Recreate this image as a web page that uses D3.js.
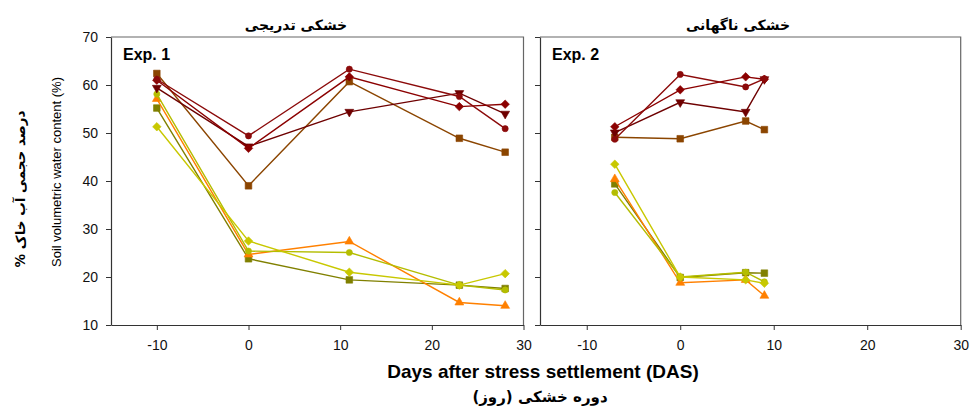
<!DOCTYPE html>
<html>
<head>
<meta charset="utf-8">
<script src="https://cdn.jsdelivr.net/npm/d3@7"></script>
<style>
  body { margin: 0; background: #fff; }
  svg text { font-family: "Liberation Sans", Arial, sans-serif; }
  .fa { font-family: "DejaVu Sans", "Noto Sans", sans-serif; font-weight: bold; }
</style>
</head>
<body>
<svg id="chart" width="970" height="408"></svg>
<script>
// days of measurement
const exp1Days = [-10, 0, 11, 23, 28]
const exp2Days = [-7, 0, 7, 9]

// soil volumetric water content (%)
const exp1CircleRed = [61.2, 49.4, 63.3, 57.6, 50.9]
const exp1DiamondRed = [61.0, 46.8, 61.7, 55.5, 56.0]
const exp1TriangleRed = [59.4, 47.2, 54.4, 58.3, 54.0]
const exp1SquareBrown = [62.4, 39.0, 60.7, 48.9, 46.0]
const exp1DiamondYellow = [51.3, 27.5, 21.0, 18.3, 20.7]
const exp1CircleYellow = [58.1, 25.4, 25.1, 18.3, 17.3]
const exp1TriangleOrange = [57.1, 24.7, 27.4, 14.7, 14.0]
const exp1SquareOlive = [55.2, 23.8, 19.4, 18.3, 17.6]

const exp2CircleRed = [48.7, 62.2, 59.6, 61.3]
const exp2DiamondRed = [51.3, 59.0, 61.7, 61.2]
const exp2TriangleRed = [50.1, 56.4, 54.4, 61.2]
const exp2SquareBrown = [49.1, 48.8, 52.5, 50.7]
const exp2DiamondYellow = [43.5, 20.0, 19.4, 18.7]
const exp2CircleYellow = [37.6, 20.0, 21.0, 19.0]
const exp2TriangleOrange = [40.4, 18.8, 19.4, 16.1]
const exp2SquareOlive = [39.4, 19.9, 20.9, 20.8]

const xTicks = [-10, 0, 10, 20, 30]
const yTicks = [10, 20, 30, 40, 50, 60, 70]

const seriesKeys = ['squareOlive', 'triangleOrange', 'circleYellow', 'diamondYellow',
  'squareBrown', 'triangleRed', 'diamondRed', 'circleRed']
const seriesColor = {
  circleRed: '#8b0a0a', diamondRed: '#8b0000', triangleRed: '#6e0000', squareBrown: '#8b4500',
  diamondYellow: '#c8c800', circleYellow: '#b4bd00', triangleOrange: '#ff8000', squareOlive: '#808000'
}
const seriesShape = {
  circleRed: 'circle', diamondRed: 'diamond', triangleRed: 'down', squareBrown: 'square',
  diamondYellow: 'diamond', circleYellow: 'circle', triangleOrange: 'up', squareOlive: 'square'
}

const exp1 = {
  days: exp1Days,
  values: {
    circleRed: exp1CircleRed, diamondRed: exp1DiamondRed, triangleRed: exp1TriangleRed,
    squareBrown: exp1SquareBrown, diamondYellow: exp1DiamondYellow, circleYellow: exp1CircleYellow,
    triangleOrange: exp1TriangleOrange, squareOlive: exp1SquareOlive
  }
}
const exp2 = {
  days: exp2Days,
  values: {
    circleRed: exp2CircleRed, diamondRed: exp2DiamondRed, triangleRed: exp2TriangleRed,
    squareBrown: exp2SquareBrown, diamondYellow: exp2DiamondYellow, circleYellow: exp2CircleYellow,
    triangleOrange: exp2TriangleOrange, squareOlive: exp2SquareOlive
  }
}

const svg = d3.select('#chart')
const plotTop = 37, plotBottom = 325

const y = d3.scaleLinear().domain([10, 70]).range([plotBottom, plotTop])

function symbolPath (shape) {
  if (shape === 'circle') return d3.symbol(d3.symbolCircle, 30)()
  if (shape === 'square') return d3.symbol(d3.symbolSquare, 44)()
  if (shape === 'diamond') return d3.symbol(d3.symbolSquare, 36)()
  return d3.symbol(d3.symbolTriangle, 34)()
}
function symbolRotate (shape) {
  if (shape === 'diamond') return 45
  if (shape === 'down') return 180
  return 0
}

function drawPanel (left, right, exp, showYLabels, expLabel, title, titleX) {
  const x = d3.scaleLinear().domain([-15, 30]).range([left, right])
  const g = svg.append('g')

  // frame top & right
  g.append('path')
    .attr('d', `M${left},${plotTop}H${right}V${plotBottom}`)
    .attr('fill', 'none').attr('stroke', '#666').attr('stroke-width', 1.2)

  const xAxis = g.append('g')
    .attr('transform', `translate(0,${plotBottom})`)
    .call(d3.axisBottom(x).tickValues(xTicks).tickSize(5).tickPadding(10).tickSizeOuter(0)
      .tickFormat(d => String(d)))
  xAxis.select('.domain').attr('stroke', '#333').attr('stroke-width', 1.2)
  xAxis.selectAll('.tick line').attr('stroke', '#333')
  xAxis.selectAll('text').attr('font-size', 14).attr('fill', '#111')
    .attr('font-family', '"Liberation Sans", Arial, sans-serif')

  const yAxis = g.append('g')
    .attr('transform', `translate(${left},0)`)
    .call(d3.axisLeft(y).tickValues(yTicks).tickSize(5).tickPadding(8).tickSizeOuter(0)
      .tickFormat(showYLabels ? d => String(d) : ''))
  yAxis.select('.domain').attr('stroke', '#333').attr('stroke-width', 1.2)
  yAxis.selectAll('.tick line').attr('stroke', '#333')
  yAxis.selectAll('text').attr('font-size', 14).attr('fill', '#111')
    .attr('font-family', '"Liberation Sans", Arial, sans-serif')

  const line = d3.line().x(d => x(d[0])).y(d => y(d[1]))

  seriesKeys.forEach(key => {
    const pts = exp.days.map((d, i) => [d, exp.values[key][i]])
    const col = seriesColor[key]
    g.append('path')
      .datum(pts)
      .attr('d', line)
      .attr('fill', 'none')
      .attr('stroke', col)
      .attr('stroke-width', 1.4)
    g.selectAll(null)
      .data(pts)
      .join('path')
      .attr('d', symbolPath(seriesShape[key]))
      .attr('transform', d => `translate(${x(d[0])},${y(d[1])}) rotate(${symbolRotate(seriesShape[key])})`)
      .attr('fill', col)
      .attr('stroke', col)
      .attr('stroke-width', 0.6)
  })

  g.append('text')
    .attr('x', left + 12)
    .attr('y', plotTop + 23)
    .attr('font-size', 16)
    .attr('font-weight', 'bold')
    .attr('fill', '#000')
    .text(expLabel)

  g.append('text')
    .attr('class', 'fa')
    .attr('x', titleX)
    .attr('y', 30)
    .attr('text-anchor', 'middle')
    .attr('font-size', 14)
    .attr('direction', 'rtl')
    .text(title)
}

drawPanel(111, 523.5, exp1, true, 'Exp. 1', 'خشکی تدریجی', 296)
drawPanel(540, 960.7, exp2, false, 'Exp. 2', 'خشکی ناگهانی', 738)

// axis titles
svg.append('text')
  .attr('x', 543)
  .attr('y', 378)
  .attr('text-anchor', 'middle')
  .attr('font-size', 19)
  .attr('font-weight', 'bold')
  .text('Days after stress settlement (DAS)')

svg.append('text')
  .attr('class', 'fa')
  .attr('x', 540)
  .attr('y', 402)
  .attr('text-anchor', 'middle')
  .attr('font-size', 15)
  .attr('direction', 'rtl')
  .text('دوره خشکی (روز)')

svg.append('text')
  .attr('transform', 'translate(61,172) rotate(-90)')
  .attr('text-anchor', 'middle')
  .attr('font-size', 13)
  .text('Soil volumetric water content (%)')

svg.append('text')
  .attr('class', 'fa')
  .attr('transform', 'translate(25,189) rotate(-90)')
  .attr('text-anchor', 'middle')
  .attr('font-size', 13.5)
  .attr('direction', 'rtl')
  .text('درصد حجمی آب خاک %')
</script>
</body>
</html>
